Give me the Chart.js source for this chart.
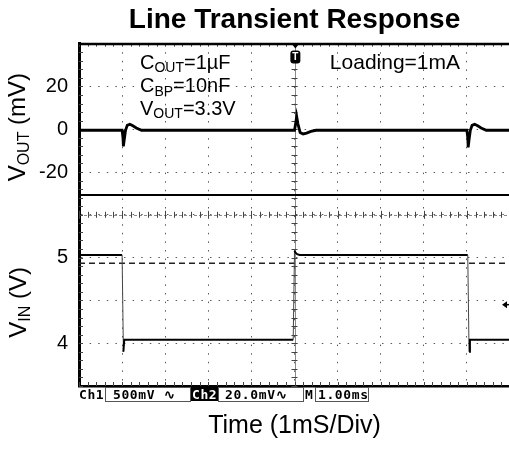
<!DOCTYPE html>
<html>
<head>
<meta charset="utf-8">
<script src="https://cdn.jsdelivr.net/npm/chart.js@4.4.1/dist/chart.umd.min.js"></script>
<style>
  html, body { margin: 0; padding: 0; background: #fff; overflow: hidden; }
  #scope { display: block; }
</style>
</head>
<body>
<canvas id="scope" width="515" height="450"></canvas>
<script>
// Ch2: output ripple, time in ms, value in mV
const voutTime = [0, 1.0, 1.02, 1.03, 1.05, 1.08, 1.12, 1.18, 1.25, 1.33, 1.45,
                  5.0, 5.03, 5.05, 5.08, 5.13, 5.2, 5.28, 5.38, 5.5,
                  9.0, 9.02, 9.03, 9.05, 9.08, 9.12, 9.18, 9.25, 9.33, 9.45, 10];
const voutMv = [-0.5, -0.5, -4, -8, -5, -0.5, 1.8, 2.3, 1.6, 0.6, -0.5,
                -0.5, 3, 6, 2.5, -1.5, -2.2, -1.8, -1, -0.5,
                -0.5, -4, -8.5, -5, -0.5, 1.8, 2.3, 1.6, 0.6, -0.5, -0.5];

// Ch1: input step, time in ms, value in V
const vinTime = [0, 1.0, 1.03, 1.05, 1.08, 4.97, 5.0, 5.02, 5.06, 5.12, 9.02, 9.05, 9.07, 9.1, 10];
const vinVolts = [5.03, 5.03, 3.9, 4.04, 4.04, 4.04, 5.08, 5.06, 5.04, 5.03, 5.03, 3.9, 4.04, 4.04, 4.04];
const vinRefLevel = 4.935;

const timeTicks = [0, 1, 2, 3, 4, 5, 6, 7, 8, 9, 10];
const voutTicks = [40, 20, 0, -20];
const voutLabels = [20, 0, -20];
const vinTicks = [5.5, 5, 4.5, 4, 3.5];
const vinLabels = [5, 4];

const FONT = "'Liberation Sans', Arial, sans-serif";
const MONO = "'DejaVu Sans Mono', monospace";

// both panels share 8 divisions; top panel takes 3.53 of them
const topDivs = 3.53;

function drawSubText(ctx, parts, x, y, size, align) {
  let w = 0;
  parts.forEach(([t, sub]) => {
    ctx.font = (sub ? Math.round(size * 0.68) : size) + 'px ' + FONT;
    w += ctx.measureText(t).width;
  });
  let cx = align === 'center' ? x - w / 2 : x;
  parts.forEach(([t, sub]) => {
    ctx.font = (sub ? Math.round(size * 0.68) : size) + 'px ' + FONT;
    ctx.fillText(t, cx, sub ? y + size * 0.18 : y);
    cx += ctx.measureText(t).width;
  });
}

const scopeDecor = {
  id: 'scopeDecor',
  beforeDatasetsDraw(chart) {
    const { ctx, chartArea: a, scales: { x, yOut, yIn } } = chart;
    ctx.save();
    // centre lines with crossbars
    const cx = x.getPixelForValue(5);
    const cy = yIn.getPixelForValue(5.5);
    ctx.strokeStyle = '#8a8a8a';
    ctx.lineWidth = 1;
    ctx.beginPath();
    ctx.moveTo(Math.round(cx) + 0.5, a.top);
    ctx.lineTo(Math.round(cx) + 0.5, a.bottom);
    ctx.stroke();
    ctx.setLineDash([3, 2]);
    ctx.beginPath();
    ctx.moveTo(a.left, Math.round(cy) + 0.5);
    ctx.lineTo(a.right, Math.round(cy) + 0.5);
    ctx.stroke();
    ctx.setLineDash([]);
    ctx.strokeStyle = '#444';
    for (let k = 0; k <= 50; k++) {
      const px = Math.round(x.getPixelForValue(k * 0.2)) + 0.5;
      const h = k % 5 === 0 ? 4 : 3;
      ctx.beginPath();
      ctx.moveTo(px, cy - h);
      ctx.lineTo(px, cy + h);
      // bottom and top edge minor ticks
      ctx.moveTo(px, a.bottom - 4);
      ctx.lineTo(px, a.bottom);
      ctx.moveTo(px, a.top);
      ctx.lineTo(px, a.top + 3);
      ctx.stroke();
    }
    for (let k = 0; k <= 40; k++) {
      const py = Math.round(yIn.getPixelForValue(3.5 + k * 0.1)) + 0.5;
      ctx.beginPath();
      ctx.moveTo(cx - 3, py);
      ctx.lineTo(cx + 3, py);
      ctx.moveTo(a.left, py);
      ctx.lineTo(a.left + 4, py);
      ctx.stroke();
    }
    ctx.restore();
  },
  afterDraw(chart) {
    const { ctx, chartArea: a, scales: { x, yOut, yIn } } = chart;
    ctx.save();
    ctx.fillStyle = '#000';
    ctx.strokeStyle = '#000';
    // top frame and panel separator
    ctx.lineWidth = 2.5;
    ctx.beginPath();
    ctx.moveTo(a.left, a.top + 0.5);
    ctx.lineTo(a.right, a.top + 0.5);
    ctx.stroke();
    ctx.lineWidth = 2;
    const sep = Math.round(yOut.bottom);
    ctx.beginPath();
    ctx.moveTo(a.left, sep);
    ctx.lineTo(a.right, sep);
    ctx.stroke();

    // trigger marker
    const tx = x.getPixelForValue(5.02);
    ctx.beginPath();
    ctx.moveTo(tx - 4, a.top);
    ctx.lineTo(tx + 4, a.top);
    ctx.lineTo(tx, a.top + 5);
    ctx.closePath();
    ctx.fill();
    ctx.beginPath();
    ctx.roundRect(tx - 5, a.top + 7, 10, 13, 3);
    ctx.fill();
    ctx.fillStyle = '#fff';
    ctx.font = 'bold 10px ' + FONT;
    ctx.textAlign = 'center';
    ctx.textBaseline = 'middle';
    ctx.fillText('T', tx, a.top + 13.5);

    // ch1 level arrow at right edge
    const ay = yIn.getPixelForValue(4.45);
    ctx.fillStyle = '#000';
    ctx.beginPath();
    ctx.moveTo(a.right - 8, ay);
    ctx.lineTo(a.right - 3, ay - 3.5);
    ctx.lineTo(a.right - 3, ay + 3.5);
    ctx.closePath();
    ctx.fill();
    ctx.lineWidth = 1.5;
    ctx.beginPath();
    ctx.moveTo(a.right - 4, ay);
    ctx.lineTo(a.right, ay);
    ctx.stroke();

    // annotations
    ctx.textAlign = 'left';
    ctx.textBaseline = 'alphabetic';
    const nx = x.getPixelForValue(1.415);
    drawSubText(ctx, [['C'], ['OUT', true], ['=1µF']], nx, yOut.getPixelForValue(28.2), 20);
    drawSubText(ctx, [['C'], ['BP', true], ['=10nF']], nx, yOut.getPixelForValue(17.4), 20);
    drawSubText(ctx, [['V'], ['OUT', true], ['=3.3V']], nx, yOut.getPixelForValue(6.8), 20);
    drawSubText(ctx, [['Loading=1mA']], x.getPixelForValue(5.82), yOut.getPixelForValue(28.2), 21);

    // rotated axis titles
    ctx.save();
    ctx.translate(25, (yOut.top + yOut.bottom) / 2 + 8);
    ctx.rotate(-Math.PI / 2);
    drawSubText(ctx, [['V'], ['OUT', true], [' (mV)']], 0, 0, 24, 'center');
    ctx.restore();
    ctx.save();
    ctx.translate(26, (yIn.top + yIn.bottom) / 2 + 12);
    ctx.rotate(-Math.PI / 2);
    drawSubText(ctx, [['V'], ['IN', true], [' (V)']], 0, 0, 24, 'center');
    ctx.restore();

    // scope status line
    const sy = a.bottom + 1;
    const base = sy + 12;
    ctx.font = 'bold 13px ' + MONO;
    ctx.letterSpacing = '0.6px';
    ctx.fillText('Ch1', a.left, base);
    ctx.strokeStyle = '#555';
    ctx.lineWidth = 1;
    ctx.strokeRect(105.5, sy + 0.5, 85, 14);
    ctx.fillText('500mV \u223F', 113, base);
    ctx.fillRect(191, sy, 27, 14);
    ctx.fillStyle = '#fff';
    ctx.fillText('Ch2', 192, base);
    ctx.fillStyle = '#000';
    ctx.strokeRect(218.5, sy + 0.5, 85, 14);
    ctx.fillText('20.0mV\u223F', 225, base);
    ctx.fillText('M', 305, base);
    ctx.strokeRect(315.5, sy + 0.5, 53, 14);
    ctx.fillText('1.00ms', 318, base);
    ctx.restore();
  }
};

const gridDots = { color: '#5a5a5a', lineWidth: 1, drawTicks: false };
const dotDash = { dash: [1.5, 7.1] };

new Chart(document.getElementById('scope'), {
  type: 'line',
  data: {
    datasets: [
      {
        label: 'VIN',
        yAxisID: 'yIn',
        data: vinTime.map((t, i) => ({ x: t, y: vinVolts[i] })),
        borderColor: '#000',
        borderWidth: 2,
        pointRadius: 0,
        segment: {
          borderWidth: c => Math.abs(c.p1.parsed.y - c.p0.parsed.y) > 0.3 ? 1 : 2,
          borderColor: c => Math.abs(c.p1.parsed.y - c.p0.parsed.y) > 0.3 ? '#444' : '#000'
        }
      },
      {
        label: 'VIN ref',
        yAxisID: 'yIn',
        data: [{ x: 0, y: vinRefLevel }, { x: 10, y: vinRefLevel }],
        borderColor: '#222',
        borderWidth: 1.5,
        borderDash: [6, 4],
        pointRadius: 0
      },
      {
        label: 'VOUT',
        yAxisID: 'yOut',
        data: voutTime.map((t, i) => ({ x: t, y: voutMv[i] })),
        borderColor: '#000',
        borderWidth: 2.8,
        pointRadius: 0
      }
    ]
  },
  options: {
    responsive: false,
    animation: false,
    events: [],
    layout: { padding: { left: 0, right: 5, top: 0, bottom: 0 } },
    plugins: {
      legend: { display: false },
      tooltip: { enabled: false },
      title: {
        display: true,
        text: 'Line Transient Response',
        color: '#000',
        font: { family: FONT, size: 28, weight: 'bold' },
        padding: { top: 3, bottom: 7 },
        fullSize: false
      }
    },
    scales: {
      x: {
        type: 'linear',
        min: 0,
        max: 10,
        afterBuildTicks: s => { s.ticks = timeTicks.map(v => ({ value: v })); },
        afterFit: s => { s.height = 64; },
        ticks: { display: false },
        grid: gridDots,
        border: { color: '#000', width: 2.5, ...dotDash },
        title: {
          display: true,
          text: 'Time (1mS/Div)',
          color: '#000',
          font: { family: FONT, size: 25 },
          padding: { top: 0, bottom: 9 }
        }
      },
      // left boxes are laid out in reverse, so the lower panel is declared first
      yIn: {
        type: 'linear',
        position: 'left',
        stack: 'scope',
        stackWeight: 8 - topDivs,
        min: 3.5,
        max: 3.5 + (8 - topDivs) * 0.5,
        afterBuildTicks: s => { s.ticks = vinTicks.map(v => ({ value: v })); },
        afterFit: s => { s.width = 79; },
        ticks: {
          color: '#000',
          padding: 11,
          font: { family: FONT, size: 20 },
          callback: v => vinLabels.includes(v) ? String(v) : ''
        },
        grid: gridDots,
        border: { color: '#000', width: 3, ...dotDash }
      },
      yOut: {
        type: 'linear',
        position: 'left',
        stack: 'scope',
        stackWeight: topDivs,
        max: 40,
        min: 40 - topDivs * 20,
        afterBuildTicks: s => { s.ticks = voutTicks.map(v => ({ value: v })); },
        afterFit: s => { s.width = 79; },
        ticks: {
          color: '#000',
          padding: 11,
          font: { family: FONT, size: 20 },
          callback: v => voutLabels.includes(v) ? String(v) : ''
        },
        grid: gridDots,
        border: { color: '#000', width: 3, ...dotDash }
      }
    }
  },
  plugins: [scopeDecor]
});
</script>
</body>
</html>
